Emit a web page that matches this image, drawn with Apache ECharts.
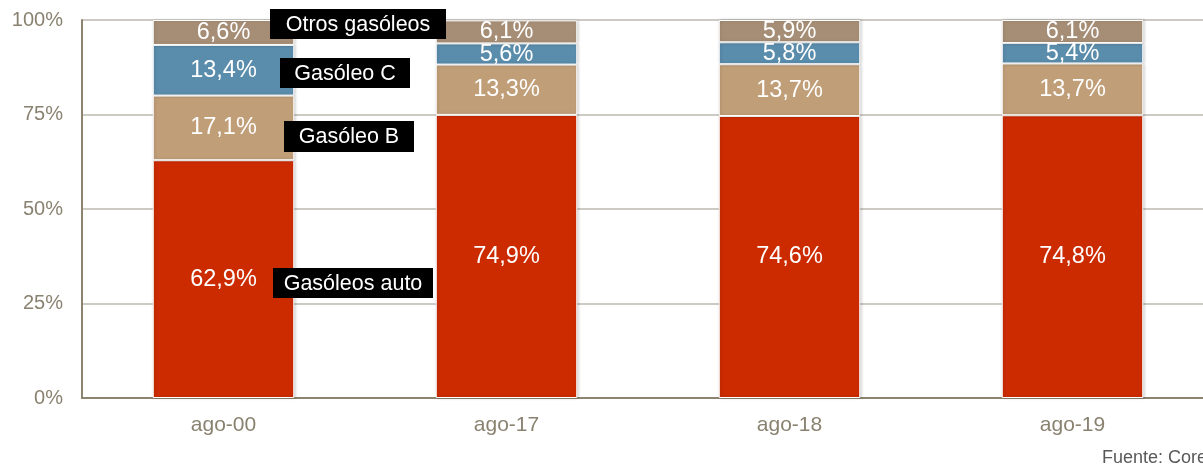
<!DOCTYPE html>
<html>
<head>
<meta charset="utf-8">
<script src="https://cdn.jsdelivr.net/npm/echarts@6/dist/echarts.min.js"></script>
<style>
html,body{margin:0;padding:0;background:#fff;overflow:hidden;}
#chart{width:1203px;height:465px;}
</style>
</head>
<body>
<div id="chart"></div>
<script>
const categories = ['ago-00', 'ago-17', 'ago-18', 'ago-19'];
const seriesNames = ['Gasóleos auto', 'Gasóleo B', 'Gasóleo C', 'Otros gasóleos'];
const gasoleosAuto = [62.9, 74.9, 74.6, 74.8];
const gasoleoB = [17.1, 13.3, 13.7, 13.7];
const gasoleoC = [13.4, 5.6, 5.8, 5.4];
const otrosGasoleos = [6.6, 6.1, 5.9, 6.1];
const yTicks = [0, 25, 50, 75, 100];
const sourceText = 'Fuente: Cores';

const colors = ['#cc2b00', '#c09e78', '#5a8cab', '#a68e76'];
const seriesData = [gasoleosAuto, gasoleoB, gasoleoC, otrosGasoleos];
const FONT = 'Liberation Sans, Arial, sans-serif';

const chart = echarts.init(document.getElementById('chart'), null, {renderer: 'canvas'});

const series = seriesData.map((d, i) => ({
  name: seriesNames[i],
  type: 'bar',
  stack: 'total',
  barWidth: '50%',
  data: d,
  itemStyle: {
    color: colors[i],
    borderColor: '#ffffff',
    borderWidth: 1,
    shadowBlur: 3,
    shadowColor: 'rgba(0,0,0,0.18)',
    shadowOffsetX: 1
  },
  label: {
    show: true,
    position: 'inside',
    color: '#ffffff',
    fontFamily: FONT,
    fontSize: 23.5,
    formatter: p => p.value.toFixed(1).replace('.', ',') + '%'
  },
  labelLayout: {hideOverlap: false}
}));

// annotation boxes (legend-like labels placed next to first bar)
const boxes = [
  {name: seriesNames[3], x: 270, y: 9, w: 176, h: 30},
  {name: seriesNames[2], x: 280, y: 58, w: 130, h: 30},
  {name: seriesNames[1], x: 284, y: 121, w: 130, h: 31},
  {name: seriesNames[0], x: 273, y: 268, w: 160, h: 30}
];
const graphics = [];
boxes.forEach(b => {
  graphics.push({
    type: 'rect', left: b.x, top: b.y, z: 100,
    shape: {width: b.w, height: b.h},
    style: {fill: '#000000'}
  });
  graphics.push({
    type: 'text', x: b.x + b.w / 2, y: b.y + b.h / 2 + 1, z: 101,
    style: {text: b.name, fill: '#ffffff', font: '21.5px ' + FONT, textAlign: 'center', textVerticalAlign: 'middle'}
  });
});
graphics.push({
  type: 'text', x: 1102, y: 458, z: 101,
  style: {text: sourceText, fill: '#595959', font: '18px ' + FONT, textAlign: 'left', textVerticalAlign: 'middle'}
});

chart.setOption({
  animation: false,
  backgroundColor: '#ffffff',
  grid: {left: 82, width: 1132, top: 20, bottom: 67, containLabel: false, outerBoundsMode: 'none'},
  xAxis: {
    type: 'category',
    data: categories,
    axisLine: {show: true, lineStyle: {color: '#8c8470', width: 2}},
    axisTick: {show: false},
    axisLabel: {color: '#8a8270', fontSize: 21, fontFamily: FONT, margin: 17},
    splitLine: {show: false}
  },
  yAxis: {
    type: 'value',
    min: yTicks[0],
    max: yTicks[yTicks.length - 1],
    interval: yTicks[1] - yTicks[0],
    axisLine: {show: true, lineStyle: {color: '#8c8470', width: 2}},
    axisTick: {show: false},
    axisLabel: {color: '#8a8270', fontSize: 20, fontFamily: FONT, margin: 19, formatter: v => v + '%'},
    splitLine: {show: true, lineStyle: {color: '#bdb9b1', width: 1.5}}
  },
  series: series,
  graphic: graphics
});
</script>
</body>
</html>
